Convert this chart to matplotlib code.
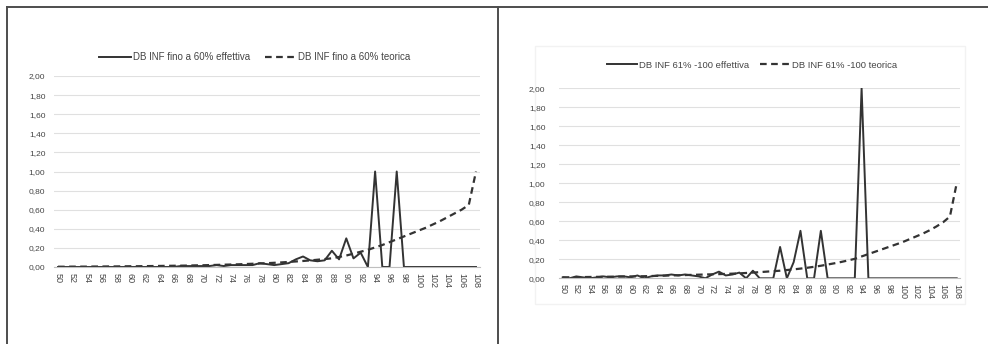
import matplotlib.pyplot as plt
import numpy as np

plt.rcParams['font.family'] = ['Liberation Sans', 'DejaVu Sans']

ages = list(range(50, 109))
tick_ages = list(range(50, 109, 2))
y_ticks = [0.0, 0.2, 0.4, 0.6, 0.8, 1.0, 1.2, 1.4, 1.6, 1.8, 2.0]

# DB INF fino a 60%
eff_60 = [0.00, 0.00, 0.00, 0.00, 0.00, 0.00, 0.00, 0.00, 0.00, 0.00,
          0.00, 0.00, 0.00, 0.00, 0.00, 0.00, 0.00, 0.01, 0.01, 0.01,
          0.01, 0.01, 0.02, 0.01, 0.02, 0.02, 0.02, 0.02, 0.04, 0.03,
          0.02, 0.03, 0.04, 0.08, 0.11, 0.07, 0.06, 0.07, 0.17, 0.08,
          0.30, 0.09, 0.15, 0.00, 1.00, 0.00, 0.00, 1.00, 0.00, 0.00,
          0.00, 0.00, 0.00, 0.00, 0.00, 0.00, 0.00, 0.00, 0.00]
teo_60 = [0.003, 0.003, 0.004, 0.004, 0.004, 0.005, 0.005, 0.006, 0.006, 0.007,
          0.008, 0.008, 0.009, 0.010, 0.011, 0.012, 0.013, 0.014, 0.015, 0.017,
          0.018, 0.020, 0.022, 0.024, 0.026, 0.028, 0.031, 0.034, 0.037, 0.040,
          0.044, 0.048, 0.053, 0.058, 0.063, 0.069, 0.076, 0.083, 0.091, 0.105,
          0.120, 0.140, 0.160, 0.180, 0.205, 0.230, 0.260, 0.290, 0.320, 0.350,
          0.380, 0.410, 0.445, 0.480, 0.520, 0.560, 0.600, 0.650, 1.000]

# DB INF 61%-100
eff_100 = [0.01, 0.00, 0.02, 0.01, 0.00, 0.01, 0.02, 0.01, 0.02, 0.02,
           0.01, 0.03, 0.00, 0.02, 0.03, 0.03, 0.04, 0.03, 0.04, 0.03,
           0.02, 0.00, 0.04, 0.07, 0.03, 0.04, 0.06, 0.00, 0.08, 0.00,
           0.00, 0.00, 0.33, 0.00, 0.17, 0.50, 0.00, 0.00, 0.50, 0.00,
           0.00, 0.00, 0.00, 0.00, 2.00, 0.00, 0.00, 0.00, 0.00, 0.00,
           0.00, 0.00, 0.00, 0.00, 0.00, 0.00, 0.00, 0.00, 0.00]
teo_100 = [0.010, 0.011, 0.012, 0.013, 0.014, 0.015, 0.016, 0.017, 0.018, 0.019,
           0.020, 0.021, 0.022, 0.024, 0.026, 0.028, 0.030, 0.032, 0.034, 0.036,
           0.038, 0.040, 0.042, 0.044, 0.046, 0.049, 0.052, 0.056, 0.060, 0.065,
           0.070, 0.075, 0.080, 0.087, 0.094, 0.102, 0.111, 0.121, 0.132, 0.145,
           0.158, 0.172, 0.188, 0.205, 0.230, 0.255, 0.280, 0.305, 0.330, 0.355,
           0.380, 0.410, 0.440, 0.470, 0.505, 0.545, 0.590, 0.650, 1.000]

W, H = 988, 344
fig = plt.figure(figsize=(W / 100, H / 100), dpi=100)

line_col = '#333333'
text_col = '#454545'
grid_col = '#e0e0e0'


def px_axes(x0, x1, y_top, y_bot):
    return fig.add_axes([x0 / W, 1 - y_bot / H, (x1 - x0) / W, (y_bot - y_top) / H])


def draw(ax, eff, teo, lab_eff, lab_teo, legend_xy, ypad, legsize, colsp):
    ax.plot(ages, eff, color=line_col, lw=1.4, label=lab_eff)
    ax.plot(ages, teo, color=line_col, lw=1.6, ls=(0, (3, 2)), label=lab_teo)
    ax.set_xlim(49.5, 108.5)
    ax.set_ylim(0, 2.0)
    ax.set_yticks(y_ticks)
    ax.set_yticklabels([f'{v:.2f}'.replace('.', ',') for v in y_ticks])
    ax.set_xticks(tick_ages)
    ax.set_xticklabels([str(a) for a in tick_ages], rotation=270)
    ax.tick_params(axis='both', length=0, colors=text_col)
    ax.tick_params(axis='y', pad=ypad, labelsize=6)
    ax.tick_params(axis='x', pad=4, labelsize=6.5)
    ax.grid(axis='y', color=grid_col, lw=0.8)
    ax.set_axisbelow(True)
    for s in ['top', 'right', 'left']:
        ax.spines[s].set_visible(False)
    ax.spines['bottom'].set_color('#bfbfbf')
    ax.spines['bottom'].set_linewidth(0.8)
    ax.set_facecolor('none')
    leg = fig.legend(handles=ax.get_lines(), loc='center',
                     bbox_to_anchor=(legend_xy[0] / W, 1 - legend_xy[1] / H),
                     ncol=2, frameon=False, fontsize=legsize, handlelength=3.2,
                     handletextpad=0.2, columnspacing=colsp)
    for t in leg.get_texts():
        t.set_color(text_col)


# faint chart-area frame on the right panel, kept behind everything
frame = plt.Rectangle((535 / W, 1 - 304 / H), 430 / W, 258 / H,
                      transform=fig.transFigure, fill=False,
                      ec='#f2f2f2', lw=1.0, zorder=-5)
fig.add_artist(frame)

ax1 = px_axes(54.4, 479.6, 76, 267)
draw(ax1, eff_60, teo_60, 'DB INF fino a 60% effettiva',
     'DB INF fino a 60% teorica', (255, 57), 6.5, 7, 1.6)

ax2 = px_axes(559.3, 960.1, 88.3, 278.3)
draw(ax2, eff_100, teo_100, 'DB INF 61% -100 effettiva',
     'DB INF 61% -100 teorica', (752, 65), 10, 6.8, 1.2)

# table borders
border = '#4d4d4d'
fig.add_artist(plt.Line2D([7 / W, 1], [1 - 6.5 / H] * 2, color=border, lw=1.4))
fig.add_artist(plt.Line2D([7 / W] * 2, [0, 1 - 6.5 / H], color=border, lw=1.4))
fig.add_artist(plt.Line2D([497.5 / W] * 2, [0, 1 - 6.5 / H], color=border, lw=1.4))

fig.savefig('out.png', dpi=100)
